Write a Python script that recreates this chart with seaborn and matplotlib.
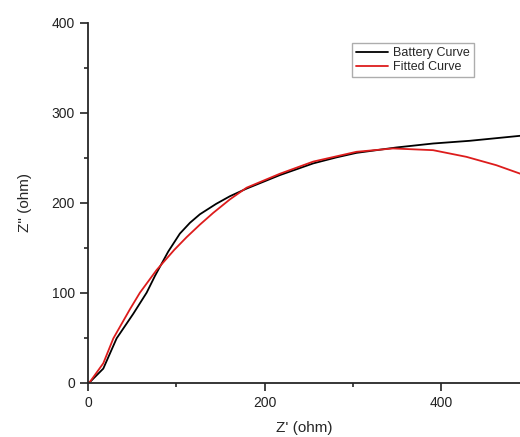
import seaborn as sns
import matplotlib.pyplot as plt
import pandas as pd
from matplotlib.ticker import MultipleLocator

# datos
bat_x = [0, 2.3, 17.3, 32.4, 51.3, 66.4, 75.8, 90.8, 104, 115.4, 126.7, 145, 160.6, 179.5, 217.2, 254.9, 281.3, 303.9, 349.1, 390.6, 432, 488.6, 500]
bat_y = [0, 1.2, 16.0, 49.6, 77.0, 100.4, 119.0, 146.0, 166.0, 178.0, 187.5, 199.0, 207.5, 216.0, 231.0, 244.0, 250.7, 255.7, 261.7, 266.1, 269.1, 274.6, 276]
fit_x = [0, 2.3, 17.3, 28.7, 47.5, 58.8, 77.7, 97.7, 111.6, 126.7, 141.7, 160.6, 179.5, 217.2, 254.9, 303.9, 345.3, 390.6, 428.3, 462.2, 488.6, 500]
fit_y = [0, 1.4, 21.9, 49.6, 82.0, 100.4, 125.6, 148.0, 162.0, 176.0, 189.0, 204.0, 217.0, 232.5, 246.0, 256.9, 260.6, 258.7, 251.3, 242, 232.8, 228]

df = pd.concat([
    pd.DataFrame({'x': bat_x, 'y': bat_y, 'curva': 'Battery Curve'}),
    pd.DataFrame({'x': fit_x, 'y': fit_y, 'curva': 'Fitted Curve'}),
])

sns.set_style('ticks')
plt.rcParams['font.family'] = ['Liberation Sans', 'DejaVu Sans']

fig = plt.figure(figsize=(5.2, 4.37), dpi=100)
ax = fig.add_axes([88/520, 1 - 383/437, 1 - 88/520, 360/437])

sns.lineplot(data=df, x='x', y='y', hue='curva', sort=False, estimator=None,
             palette={'Battery Curve': 'black', 'Fitted Curve': '#dd1c1c'},
             linewidth=1.3, ax=ax)

ax.set_xlim(0, 489)
ax.set_ylim(0, 400)
ax.xaxis.set_major_locator(MultipleLocator(200))
ax.xaxis.set_minor_locator(MultipleLocator(100))
ax.yaxis.set_major_locator(MultipleLocator(100))
ax.yaxis.set_minor_locator(MultipleLocator(50))
ax.tick_params(which='major', length=6, width=1.2, direction='out', labelsize=10, colors='#222222')
ax.tick_params(which='minor', length=3, width=1.2, direction='out')
for s in ['left', 'bottom']:
    ax.spines[s].set_linewidth(1.3)
sns.despine(ax=ax)

ax.set_xlabel("Z' (ohm)", fontsize=11, labelpad=8)
ax.set_ylabel('Z" (ohm)', fontsize=11, labelpad=14)

leg = ax.legend(loc='upper right', bbox_to_anchor=(0.8935, 0.944), borderaxespad=0,
                fontsize=9, frameon=True, fancybox=False, handlelength=2.6,
                handletextpad=0.4, borderpad=0.3, labelspacing=0.2)
leg.get_frame().set_edgecolor('#999999')
leg.get_frame().set_linewidth(1.0)
leg.set_title(None)

fig.savefig('out.png', dpi=100)
